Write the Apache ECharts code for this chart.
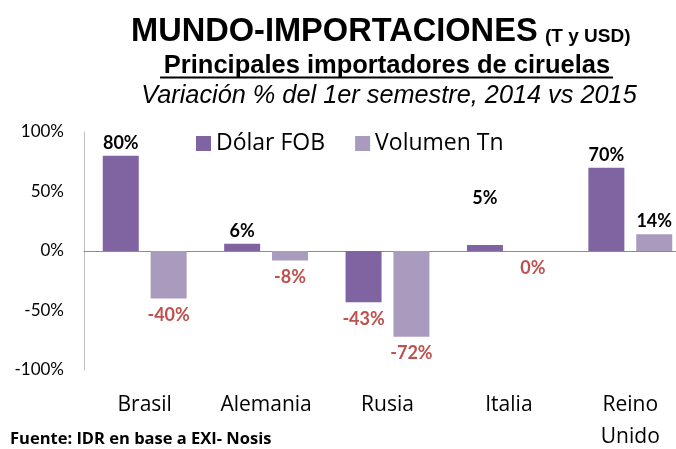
<!DOCTYPE html>
<html>
<head>
<meta charset="utf-8">
<script src="https://cdn.jsdelivr.net/npm/echarts@6/dist/echarts.min.js"></script>
<style>
  html, body { margin: 0; padding: 0; background: #fff; }
  #chart { width: 676px; height: 449px; }
</style>
</head>
<body>
<div id="chart"></div>
<script>
// country names and % change 1st half 2014 vs 2015
const countries = ['Brasil', 'Alemania', 'Rusia', 'Italia', 'Reino\nUnido'];
const dolarFob = [80, 6, -43, 5, 70];
const volumenTn = [-40, -8, -72, 0, 14];
const yTicks = [-100, -50, 0, 50, 100];

const RED = '#C0504D';
const DARK = '#8064A2';
const LIGHT = '#A99BBD';

// positive values get black label on top, zero/negative get red label below
const toItems = (vals, bumpIdx) => vals.map((v, i) => ({
  value: v,
  label: {
    position: v > 0 ? 'top' : 'bottom',
    color: v > 0 ? '#000' : RED,
    distance: i === bumpIdx ? 38 : (v > 0 ? 4 : 8)
  }
}));

const chart = echarts.init(document.getElementById('chart'));

const option = {
  animation: false,
  graphic: [
    {
      type: 'text', x: 131, y: 49,
      style: { text: 'MUNDO-IMPORTACIONES', verticalAlign: 'bottom', font: 'bold 32.6px "Liberation Sans", Arial', fill: '#000' }
    },
    {
      type: 'text', x: 545, y: 46,
      style: { text: '(T y USD)', verticalAlign: 'bottom', font: 'bold 19px "Liberation Sans", Arial', fill: '#000' }
    },
    {
      type: 'text', x: 387, y: 53,
      style: { text: 'Principales importadores de ciruelas', align: 'center', font: 'bold 25.5px "Liberation Sans", Arial', fill: '#000' }
    },
    {
      type: 'line', shape: { x1: 160, y1: 77.5, x2: 613, y2: 77.5 },
      style: { stroke: '#000', lineWidth: 1.8 }
    },
    {
      type: 'text', x: 389, y: 83,
      style: { text: 'Variación % del 1er semestre, 2014 vs 2015', align: 'center', font: 'italic 25.3px "Liberation Sans", Arial', fill: '#000' }
    },
    {
      type: 'text', left: 10, top: 431,
      style: { text: 'Fuente: IDR en base a EXI- Nosis', font: 'bold 16.5px "Open Sans"', fill: '#000' }
    }
  ],
  legend: {
    top: 127, left: 191,
    itemWidth: 15, itemHeight: 15, itemGap: 30,
    icon: 'rect',
    textStyle: { fontFamily: 'Open Sans', fontSize: 23, color: '#000' },
    data: ['Dólar FOB', 'Volumen Tn']
  },
  grid: { left: 84, top: 132, bottom: 79, width: 607, outerBoundsMode: 'none', containLabel: false },
  xAxis: {
    type: 'category',
    data: countries,
    axisLine: { onZero: true, lineStyle: { color: '#8c8c8c', width: 1 } },
    axisTick: { show: false },
    axisLabel: {
      interval: 0,
      fontFamily: 'Open Sans', fontSize: 21, color: '#000', lineHeight: 32,
      margin: 19
    }
  },
  yAxis: {
    type: 'value',
    min: -100, max: 100, interval: 50,
    axisLine: { show: true, lineStyle: { color: '#bfbfbf' } },
    axisTick: { show: false },
    splitLine: { show: false },
    axisLabel: {
      fontFamily: 'Lato', fontSize: 17, color: '#000', margin: 20,
      formatter: v => yTicks.includes(v) ? v + '%' : ''
    }
  },
  series: [
    {
      name: 'Dólar FOB', type: 'bar',
      data: toItems(dolarFob, 3),
      barWidth: 36, barGap: '33%',
      itemStyle: { color: DARK },
      label: { show: true, fontFamily: 'Lato', fontWeight: 'bold', fontSize: 18, formatter: p => p.value + '%' }
    },
    {
      name: 'Volumen Tn', type: 'bar',
      data: toItems(volumenTn, -1),
      barWidth: 36,
      itemStyle: { color: LIGHT },
      label: { show: true, fontFamily: 'Lato', fontWeight: 'bold', fontSize: 18, formatter: p => p.value + '%' }
    }
  ]
};

chart.setOption(option);
</script>
</body>
</html>
